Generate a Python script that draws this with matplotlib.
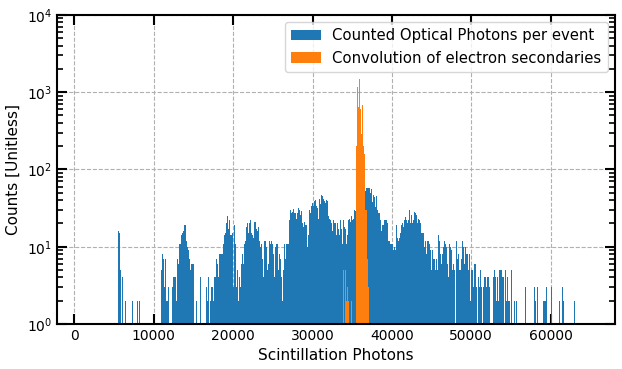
import numpy as np
import matplotlib
matplotlib.use('Agg')
import matplotlib.pyplot as plt

# Istogramma dei fotoni ottici contati per evento
bin_start = 5500
bin_width = 126

blue_counts = [
    # ~5500 - 8200
    16, 15, 5, 0, 4, 0, 0, 2, 0, 0, 0, 0, 0, 0, 2, 0, 0, 0, 0, 2, 0, 2,
    # ~8300 - 10900
    0, 0, 0, 0, 0, 0, 0, 0, 0, 0, 0, 0, 0, 0, 0, 0, 0, 0, 0, 0, 0,
    # ~10900 - 12800
    5, 8, 7, 3, 7, 2, 2, 3, 0, 0, 0, 3, 4, 4, 4, 2,
    7, 6, 11, 11, 14, 15, 16, 19, 19, 12, 10, 9, 7, 5, 6, 6, 6,
    # ~15000 - 17400
    0, 0, 2, 0, 0, 0, 4, 0, 0, 0, 0, 0, 3, 2, 4, 0, 2, 3, 3, 2,
    # ~17500 - 20200
    4, 4, 7, 6, 4, 8, 8, 8, 8, 11, 14, 15, 20, 25, 17, 22, 14, 14, 15, 3, 19, 11,
    # ~20300 - 28300
    3, 5, 2, 4, 3, 6, 8, 6, 11, 12, 18, 20, 15, 20, 22, 15, 14, 13, 21, 21,
    17, 16, 18, 12, 10, 11, 7, 4, 12, 12, 10, 5, 6, 12, 11, 12, 11, 8, 4, 10,
    11, 11, 5, 8, 7, 4, 2, 5, 11, 7, 11, 11, 11, 22, 30, 27, 28, 31, 27, 27,
    23, 27, 32, 30,
    # ~28400 - 35400
    26, 29, 20, 18, 21, 19, 19, 10, 14, 30, 27, 34, 37, 34, 39, 40, 34, 32, 23, 42,
    36, 47, 45, 41, 39, 37, 40, 39, 25, 23, 22, 20, 16, 22, 20, 20, 14, 20, 17, 14,
    22, 17, 11, 22, 18, 17, 11, 14, 22, 23, 21, 25, 22, 23, 30, 29,
    # sotto il picco arancione
    35, 38, 40, 42, 45, 45, 48, 50, 50,
    # ~36600 - 42700
    52, 57, 57, 57, 57, 49, 55, 38, 47, 44, 33, 45, 30, 27, 27, 22, 16, 19, 19, 22,
    22, 22, 20, 12, 12, 11, 11, 11, 9, 10, 9, 19, 13, 12, 13, 15, 19, 20, 18, 22,
    24, 22, 20, 22, 30, 20, 26, 20, 22,
    # ~42800 - 50300
    28, 27, 26, 20, 23, 22, 20, 15, 15, 15, 10, 12, 8, 12, 12, 11, 9, 5, 9, 7,
    7, 5, 7, 5, 14, 12, 8, 6, 8, 10, 12, 11, 10, 6, 4, 11, 10, 9, 5, 6,
    5, 0, 12, 7, 8, 5, 5, 7, 12, 10, 6, 10, 8, 8, 5, 8, 2, 5, 5, 3,
    # ~50400 - 58400
    6, 6, 3, 0, 4, 3, 5, 3, 0, 3, 4, 4, 3, 4, 4, 3, 0, 0, 0, 4,
    5, 4, 2, 4, 2, 5, 5, 5, 4, 4, 0, 5, 2, 4, 2, 2, 0, 5, 0, 0,
    2, 0, 2, 0, 0, 0, 0, 0, 0, 0, 0, 3, 0, 0, 0, 0, 0, 0, 0, 0,
    3, 2, 0, 3,
    # ~58500 - 63000
    0, 0, 0, 0, 0, 2, 2, 2, 3, 0, 0, 0, 0, 3, 0, 0, 0, 0, 0, 0,
    0, 2, 0, 0, 3, 2, 0, 0, 0, 0, 0, 0, 0, 0, 0, 0, 2,
]

# Convoluzione dei secondari elettronici
orange_start = 33850
orange_counts = [5, 0, 5, 2, 3, 2, 0, 0, 2, 0, 0, 0, 0,
                 200, 1150, 650, 1500, 600, 290, 690, 200, 160, 30, 30, 7, 3]

blue_edges = bin_start + bin_width * np.arange(len(blue_counts) + 1)
orange_edges = orange_start + bin_width * np.arange(len(orange_counts) + 1)

plt.rcParams.update({'font.size': 11})

fig = plt.figure(figsize=(6.22, 3.69), dpi=100)
ax = fig.add_axes([0.0916, 0.122, 0.8971, 0.8377])

ax.hist(blue_edges[:-1], bins=blue_edges, weights=blue_counts, color='#1f77b4',
        label='Counted Optical Photons per event', log=True)
ax.hist(orange_edges[:-1], bins=orange_edges, weights=orange_counts, color='#ff7f0e',
        label='Convolution of electron secondaries', log=True)

ax.set_xlim(-2200, 68100)
ax.set_ylim(1, 1e4)
ax.set_xticks([0, 10000, 20000, 30000, 40000, 50000, 60000])

ax.set_xlabel('Scintillation Photons')
ax.set_ylabel('Counts [Unitless]')
ax.grid(True, which='major', linestyle='--', color='#b0b0b0', linewidth=0.8)
ax.set_axisbelow(True)

ax.tick_params(which='both', direction='in', top=True, right=True, labelsize=10)
ax.tick_params(which='major', length=7, width=1.5)
ax.tick_params(which='minor', length=4, width=1.2)
for s in ax.spines.values():
    s.set_linewidth(1.5)

ax.legend(loc='upper right', fontsize=10.7)

plt.savefig('out.png', dpi=100)
plt.close()
